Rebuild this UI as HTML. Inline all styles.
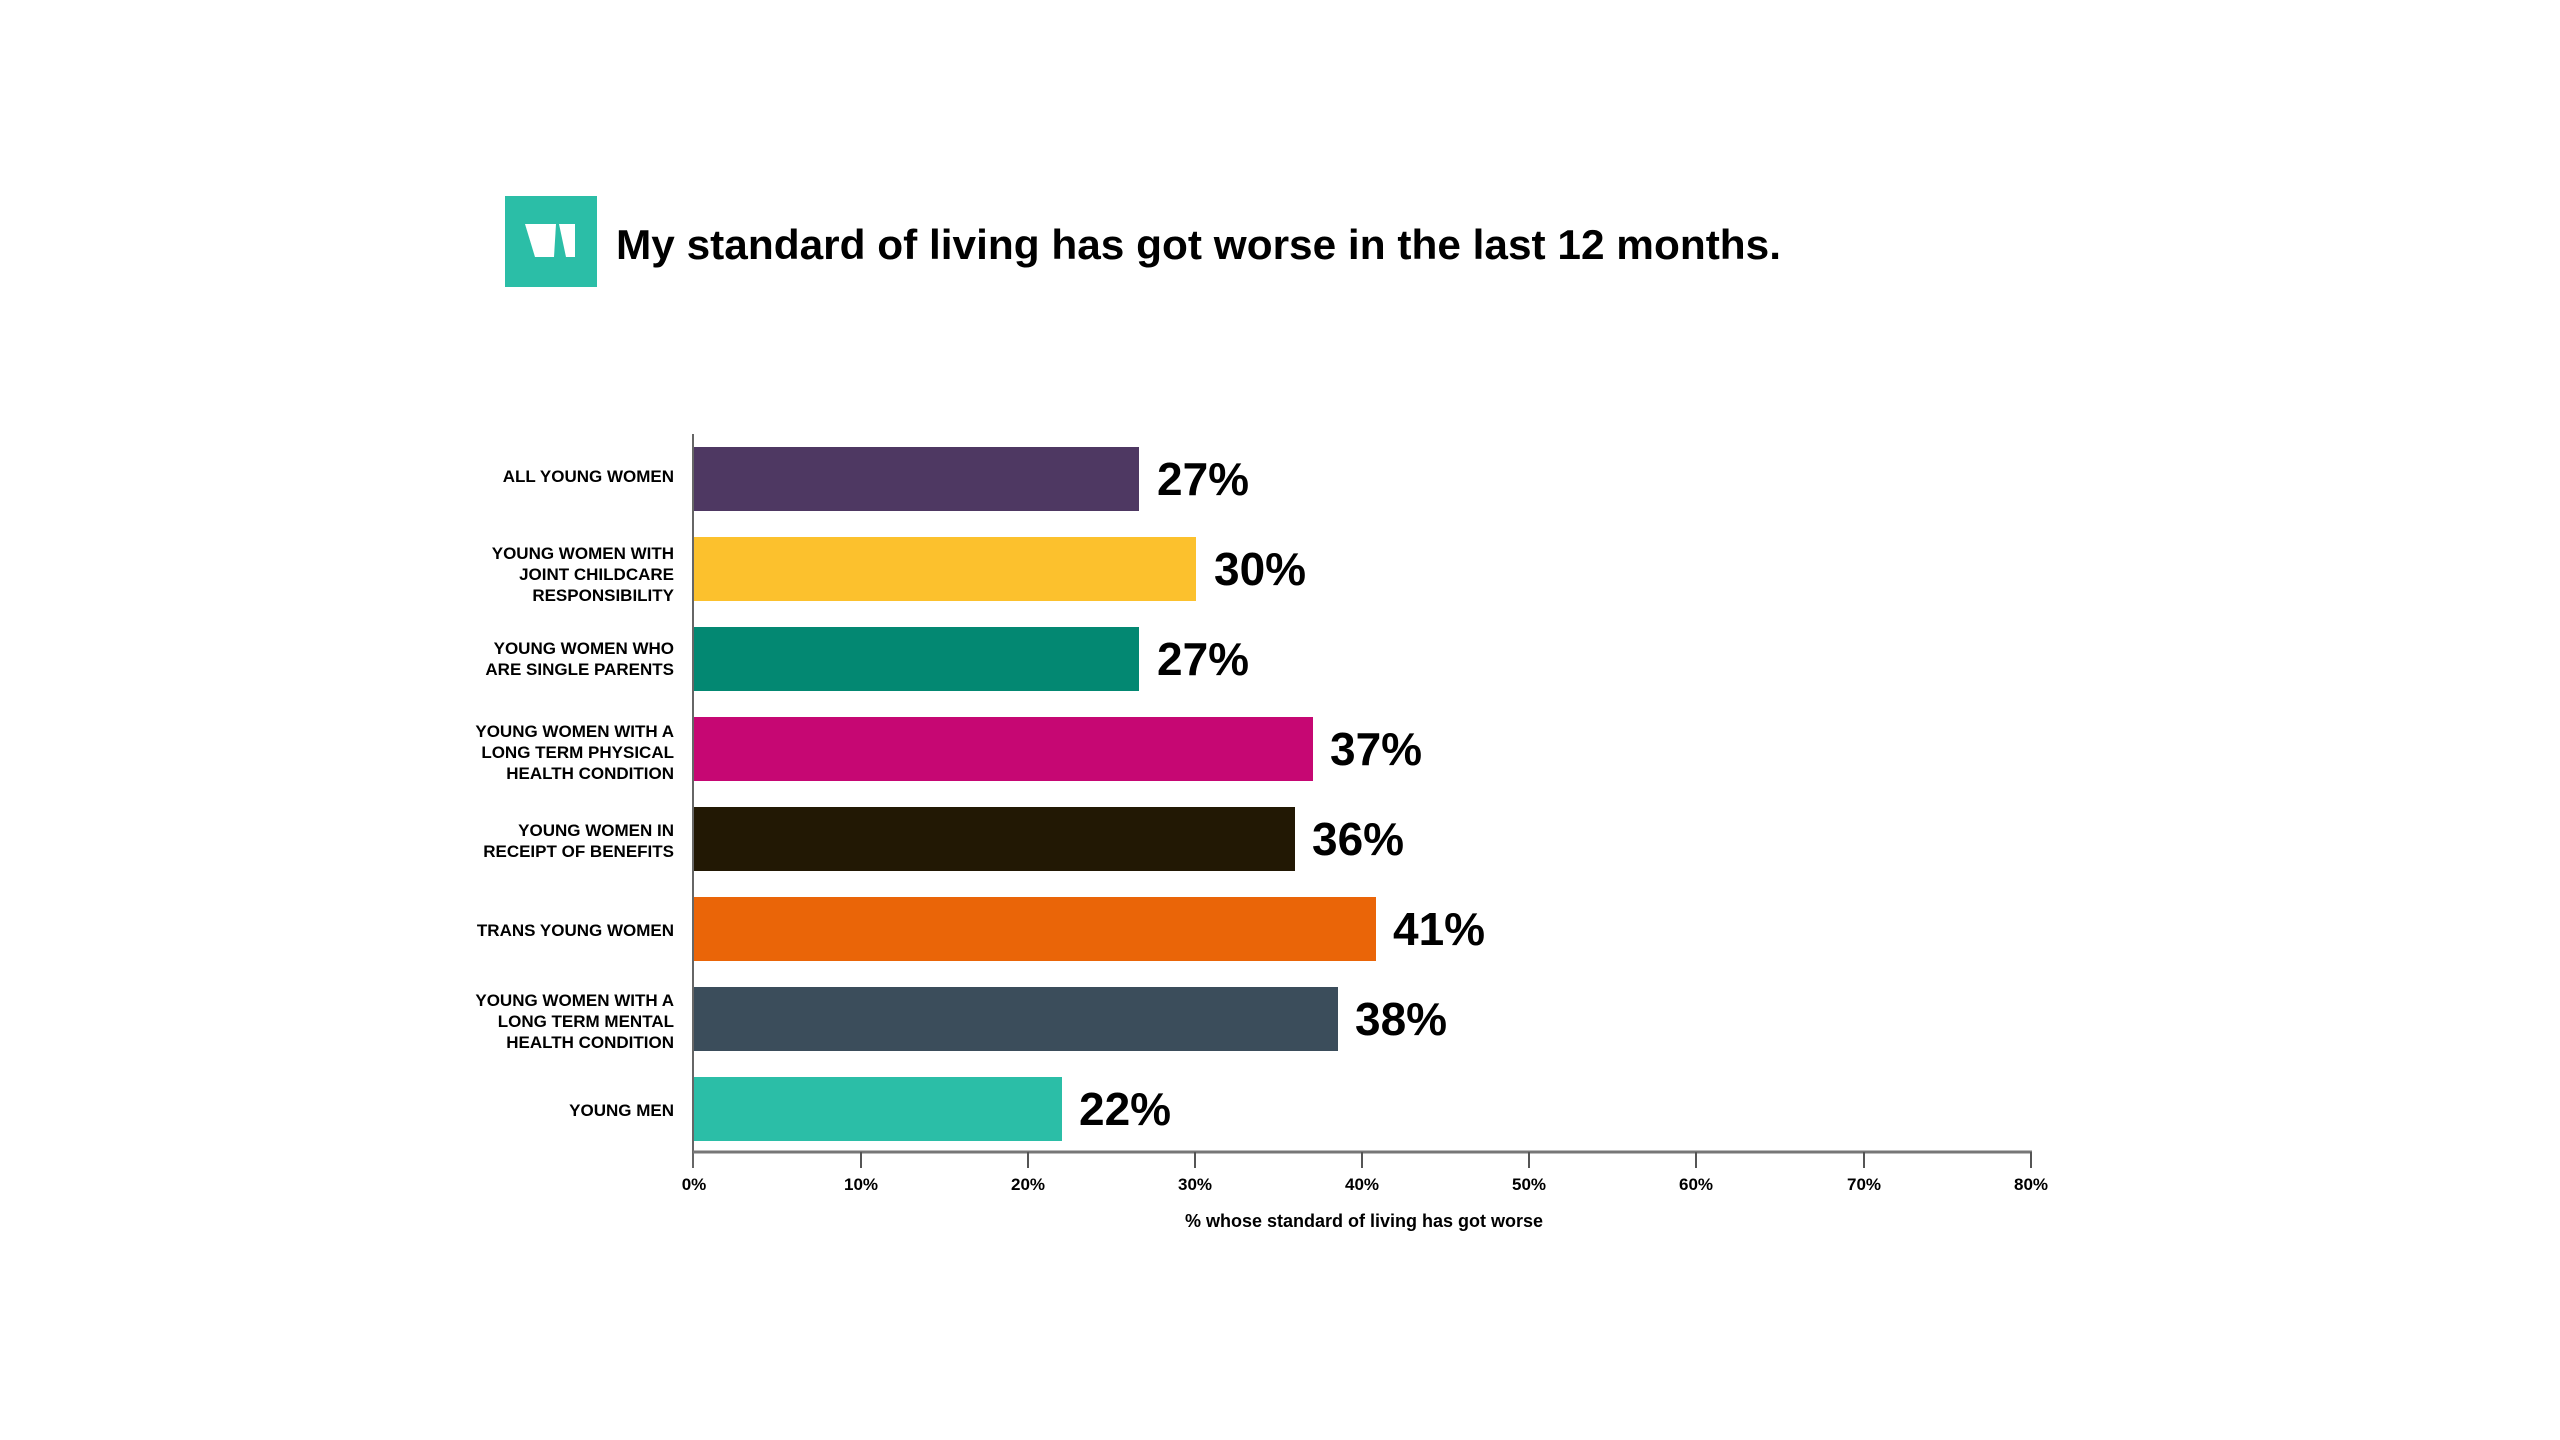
<!DOCTYPE html>
<html><head><meta charset="utf-8"><style>
html,body{margin:0;padding:0;background:#fff;}
svg{display:block;}
text{font-family:"Liberation Sans",sans-serif;font-weight:bold;fill:#000;}
</style></head><body>
<svg width="2560" height="1440" viewBox="0 0 2560 1440" xmlns="http://www.w3.org/2000/svg">
<rect width="2560" height="1440" fill="#fff"/>
<rect x="505" y="196" width="92" height="91" fill="#2bbea7"/>
<polygon points="525,224 556,224 554,257 535,257" fill="#fff"/>
<polygon points="559,224 575,224 575,257 566,257" fill="#fff"/>
<text x="616" y="259" font-size="42" textLength="1165" lengthAdjust="spacingAndGlyphs">My standard of living has got worse in the last 12 months.</text>

<line x1="693" y1="434" x2="693" y2="1168" stroke="#666" stroke-width="2"/>
<line x1="693" y1="1152" x2="2032" y2="1152" stroke="#777" stroke-width="3"/>
<g stroke="#555" stroke-width="2">
<line x1="861" y1="1152" x2="861" y2="1168"/><line x1="1028" y1="1152" x2="1028" y2="1168"/>
<line x1="1195" y1="1152" x2="1195" y2="1168"/><line x1="1362" y1="1152" x2="1362" y2="1168"/>
<line x1="1529" y1="1152" x2="1529" y2="1168"/><line x1="1696" y1="1152" x2="1696" y2="1168"/>
<line x1="1864" y1="1152" x2="1864" y2="1168"/><line x1="2031" y1="1152" x2="2031" y2="1168"/>
</g>
<g font-size="17" text-anchor="middle">
<text x="694" y="1190">0%</text><text x="861" y="1190">10%</text><text x="1028" y="1190">20%</text>
<text x="1195" y="1190">30%</text><text x="1362" y="1190">40%</text><text x="1529" y="1190">50%</text>
<text x="1696" y="1190">60%</text><text x="1864" y="1190">70%</text><text x="2031" y="1190">80%</text>
</g>
<text x="1364" y="1227" font-size="18" text-anchor="middle">% whose standard of living has got worse</text>

<rect x="694" y="447" width="445" height="64" fill="#4e3862"/>
<rect x="694" y="537" width="502" height="64" fill="#fcc12d"/>
<rect x="694" y="627" width="445" height="64" fill="#038872"/>
<rect x="694" y="717" width="619" height="64" fill="#c60773"/>
<rect x="694" y="807" width="601" height="64" fill="#221804"/>
<rect x="694" y="897" width="682" height="64" fill="#ea6508"/>
<rect x="694" y="987" width="644" height="64" fill="#3b4d5b"/>
<rect x="694" y="1077" width="368" height="64" fill="#2bbea7"/>

<g font-size="46">
<text x="1157" y="495">27%</text>
<text x="1214" y="585">30%</text>
<text x="1157" y="675">27%</text>
<text x="1330" y="765">37%</text>
<text x="1312" y="855">36%</text>
<text x="1393" y="945">41%</text>
<text x="1355" y="1035">38%</text>
<text x="1079" y="1125">22%</text>
</g>

<g font-size="17" text-anchor="end">
<text x="674" y="482">ALL YOUNG WOMEN</text>
<text x="674" y="559">YOUNG WOMEN WITH</text>
<text x="674" y="580">JOINT CHILDCARE</text>
<text x="674" y="601">RESPONSIBILITY</text>
<text x="674" y="654">YOUNG WOMEN WHO</text>
<text x="674" y="675">ARE SINGLE PARENTS</text>
<text x="674" y="737">YOUNG WOMEN WITH A</text>
<text x="674" y="758">LONG TERM PHYSICAL</text>
<text x="674" y="779">HEALTH CONDITION</text>
<text x="674" y="836">YOUNG WOMEN IN</text>
<text x="674" y="857">RECEIPT OF BENEFITS</text>
<text x="674" y="936">TRANS YOUNG WOMEN</text>
<text x="674" y="1006">YOUNG WOMEN WITH A</text>
<text x="674" y="1027">LONG TERM MENTAL</text>
<text x="674" y="1048">HEALTH CONDITION</text>
<text x="674" y="1116">YOUNG MEN</text>
</g>
</svg>
</body></html>
